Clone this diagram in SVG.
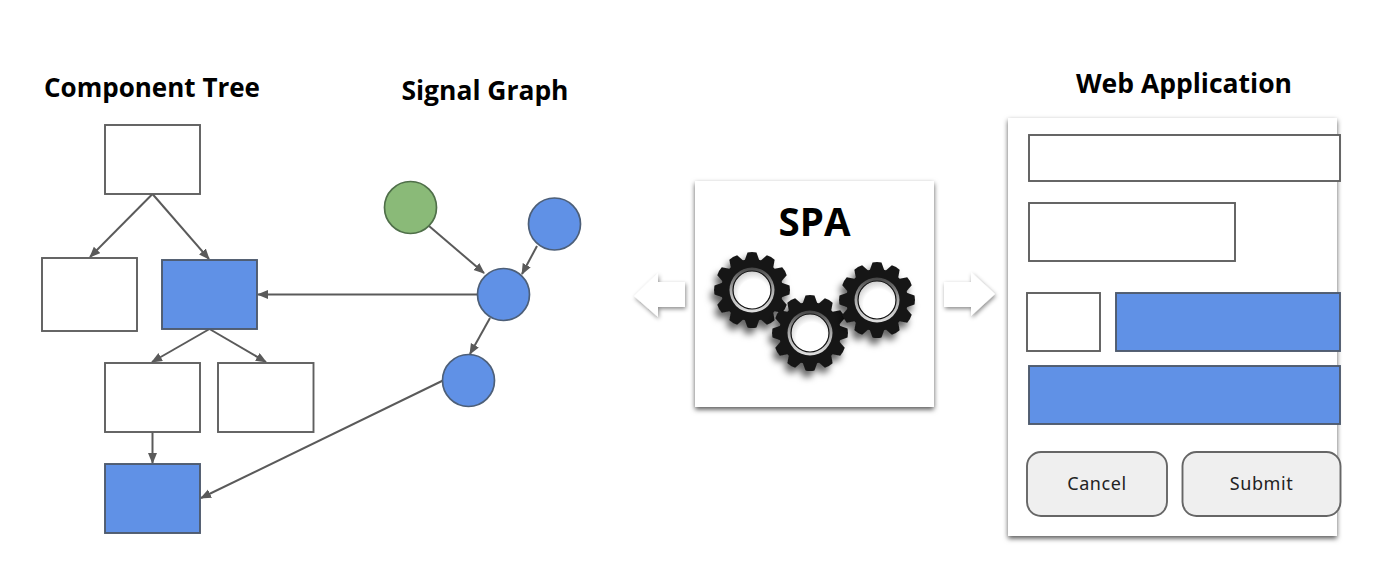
<svg xmlns="http://www.w3.org/2000/svg" width="1388" height="571" viewBox="0 0 1388 571">
<style>
.box{fill:#fff;stroke:#5f5f5f;stroke-width:1.9}
.blue{fill:#6091e6;stroke:#4f5b6e;stroke-width:1.9}
.btn{fill:#efefef;stroke:#666;stroke-width:1.9}
.circ{fill:#6091e6;stroke:#4d5f78;stroke-width:1.7}
.edge{fill:none;stroke:#5a5a5a;stroke-width:2;marker-end:url(#ah)}
.title{font-family:"Open Sans","Noto Sans",sans-serif;font-weight:700;fill:#000}
.btxt{font-family:"Noto Sans","Open Sans",sans-serif;font-size:18px;fill:#222;text-anchor:middle;letter-spacing:.6px}
</style>
<defs>
<marker id="ah" markerUnits="userSpaceOnUse" markerWidth="12" markerHeight="10" refX="10" refY="4.5" orient="auto"><path d="M0 0L11 4.5L0 9Z" fill="#5a5a5a"/></marker>
<filter id="card" x="-10%" y="-10%" width="120%" height="120%"><feDropShadow dx="0" dy="2.500" stdDeviation="2.500" flood-color="#000" flood-opacity=".65"/></filter>
<filter id="arrowS" x="-20%" y="-20%" width="150%" height="150%"><feDropShadow dx="1" dy="2" stdDeviation="2" flood-color="#000" flood-opacity=".45"/></filter>
<filter id="gearS" x="-30%" y="-30%" width="170%" height="170%"><feDropShadow dx="-3" dy="6" stdDeviation="3.500" flood-color="#000" flood-opacity=".6"/></filter>
<linearGradient id="ring" x1="0" y1="0" x2="0" y2="1"><stop offset="0" stop-color="#444"/><stop offset=".5" stop-color="#aaa"/><stop offset="1" stop-color="#e0e0e0"/></linearGradient>
<radialGradient id="inner" cx=".55" cy=".62" r=".62"><stop offset=".65" stop-color="#fff"/><stop offset="1" stop-color="#cfcfcf"/></radialGradient>
<g id="gear">
<g filter="url(#gearS)"><g fill="#161616">
<circle r="31"/>
<path id="t" d="M-4.500 -37.500Q0 -38.500 4.500 -37.500L7.500 -29L-7.500 -29Z"/>
<use href="#t" transform="rotate(30)"/><use href="#t" transform="rotate(60)"/><use href="#t" transform="rotate(90)"/><use href="#t" transform="rotate(120)"/><use href="#t" transform="rotate(150)"/><use href="#t" transform="rotate(180)"/><use href="#t" transform="rotate(210)"/><use href="#t" transform="rotate(240)"/><use href="#t" transform="rotate(270)"/><use href="#t" transform="rotate(300)"/><use href="#t" transform="rotate(330)"/>
</g></g>
<circle r="22.500" fill="url(#ring)"/>
<circle r="19" fill="url(#inner)" stroke="#111" stroke-width="1.200"/>
</g>
</defs>
<rect width="1388" height="571" fill="#fff"/>
<text class="title" x="152" y="97" font-size="26" text-anchor="middle" textLength="216" lengthAdjust="spacingAndGlyphs">Component Tree</text>
<text class="title" x="485" y="100" font-size="26" text-anchor="middle" textLength="167" lengthAdjust="spacingAndGlyphs">Signal Graph</text>
<text class="title" x="1184" y="93" font-size="26" text-anchor="middle" textLength="216" lengthAdjust="spacingAndGlyphs">Web Application</text>
<g id="connectors">
<path class="edge" d="M152.500 194L90 257"/>
<path class="edge" d="M152.500 194L209 259"/>
<path class="edge" d="M209.500 329L152 362"/>
<path class="edge" d="M209.500 329L266 362"/>
<path class="edge" d="M152.500 432L152.500 463"/>
<path class="edge" d="M477 294.500L258 294.500"/>
<path class="edge" d="M429 226L484 273"/>
<path class="edge" d="M537 246L522 274"/>
<path class="edge" d="M490 318L470 354"/>
<path class="edge" d="M444 380L201 498"/>
</g>
<g id="tree-root"><rect class="box" x="105" y="125" width="95" height="69"/></g>
<g id="tree-left"><rect class="box" x="42" y="258" width="95" height="73"/></g>
<g id="tree-blue"><rect class="blue" x="162" y="260" width="95" height="69"/></g>
<g id="tree-c1"><rect class="box" x="105" y="363" width="95" height="69"/></g>
<g id="tree-c2"><rect class="box" x="218" y="363" width="95.500" height="69"/></g>
<g id="tree-leaf"><rect class="blue" x="105" y="464" width="95" height="69"/></g>
<g id="sig-green"><circle cx="410.500" cy="207.500" r="26" fill="#8aba78" stroke="#4f6f49" stroke-width="1.700"/></g>
<g id="sig-b1"><circle class="circ" cx="554.500" cy="224" r="26"/></g>
<g id="sig-b2"><circle class="circ" cx="503.500" cy="294.500" r="26"/></g>
<g id="sig-b3"><circle class="circ" cx="468.500" cy="380.500" r="26"/></g>
<g id="arrow-left"><path d="M685 282L658 282L658 273L634 296L658 317L658 307L685 307Z" fill="#fff" filter="url(#arrowS)"/></g>
<g id="arrow-right"><path d="M944 282L971 282L971 272L995 294L971 316L971 307L944 307Z" fill="#fff" filter="url(#arrowS)"/></g>
<g id="spa">
<rect x="695" y="181" width="239" height="226" fill="#fff" filter="url(#card)"/>
<text x="814.500" y="236" font-family="'Open Sans','Noto Sans',sans-serif" font-weight="700" font-size="39" text-anchor="middle" fill="#000" textLength="72" lengthAdjust="spacingAndGlyphs">SPA</text>
<use href="#gear" x="752" y="290"/>
<use href="#gear" x="810" y="333"/>
<use href="#gear" x="877" y="300"/>
</g>
<g id="web-app">
<rect x="1008" y="118" width="329" height="418" fill="#fff" filter="url(#card)"/>
<rect class="box" x="1029" y="135" width="311" height="46"/>
<rect class="box" x="1029" y="203" width="206" height="58"/>
<rect class="box" x="1027" y="293" width="73" height="58"/>
<rect class="blue" x="1116" y="293" width="224" height="58"/>
<rect class="blue" x="1029" y="366" width="311" height="58"/>
<rect class="btn" x="1027" y="452" width="140" height="64" rx="14"/>
<text class="btxt" x="1097" y="490">Cancel</text>
<rect class="btn" x="1182.500" y="452" width="158" height="64" rx="14"/>
<text class="btxt" x="1261.500" y="490">Submit</text>
</g>
</svg>
